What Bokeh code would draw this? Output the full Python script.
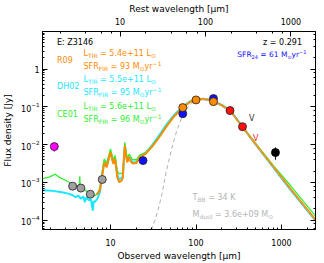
import math
from bokeh.plotting import figure
from bokeh.models import (Range1d, LogAxis, LogTicker, LogScale, BasicTickFormatter, Label,
                          CustomJSTickFormatter)
from bokeh.core.properties import value
from bokeh.embed import file_html
from bokeh.resources import INLINE

FONT = "DejaVu Sans"
ORANGE = "#ff8c00"
CYAN = "#19e6ff"
GREEN = "#2ef02e"
GREY_TXT = "#b4b4b4"
Z = 0.291

# ---------------- data ----------------
# photometry
mag_x = [2.2]; mag_y = [8.9e-3]; mag_lo = [6.5e-3]; mag_hi = [1.1e-2]
irac_x = [3.6, 4.5, 5.8, 8.0]; irac_y = [8.0e-4, 7.1e-4, 4.9e-4, 1.2e-3]
mips_x = [24.0, 70.0, 160.0]; mips_y = [3.8e-3, 0.066, 0.166]
pacs_x = [70.0, 100.0, 160.0]; pacs_y = [0.096, 0.153, 0.138]
spire_x = [250.0, 350.0]; spire_y = [0.080, 0.030]
smm_x = [850.0]; smm_y = [6.2e-3]; smm_lo = [4.0e-3]; smm_hi = [8.5e-3]
lim_x = [450.0, 500.0]; lim_y = [0.048, 0.015]; lim_txt = ["V", "V"]; lim_col = ["#303030", "#ff2020"]

# R09 template (orange)
r09_x = [6.9, 7.5, 8.06, 8.45, 9.0, 9.6, 10.0, 10.5, 10.8, 11.3, 12.0, 12.6, 13.4, 13.9, 14.4, 14.7,
         15.1, 15.7, 16.5, 17.2, 18.1, 20.1, 22.0, 25.9, 31.0, 38.0, 45.0, 55.0, 70.0, 85.0, 100.0,
         120.0, 140.0, 160.0, 200.0, 253.0, 350.0, 497.0, 813.0, 1274.0, 2530.0]
r09_y = [4.8e-4, 6.2e-4, 1.7e-3, 3.4e-3, 2.5e-3, 4.5e-3, 6.3e-3, 4.0e-3, 3.1e-3, 4.2e-3, 1.38e-3,
         1.02e-3, 1.1e-3, 1.3e-3, 5.0e-3, 9.4e-3, 5.5e-3, 3.4e-3, 4.7e-3, 3.6e-3, 3.2e-3, 3.3e-3,
         4.7e-3, 5.8e-3, 9.2e-3, 0.017, 0.030, 0.055, 0.097, 0.135, 0.156, 0.162, 0.155, 0.142,
         0.110, 0.078, 0.029, 0.0104, 2.5e-3, 6.8e-4, 1.0e-4]

# CE01 template (green)
ce01_x = [1.6, 1.92, 2.26, 2.5, 3.0, 3.69, 4.3, 4.37, 4.42, 4.6, 5.4, 6.45, 7.0, 7.5, 8.06, 8.45,
          9.0, 10.0, 10.7, 11.3, 12.0, 12.6, 13.9, 14.7, 15.7, 16.5, 18.1, 20.1, 22.0, 25.9, 31.0,
          38.0, 45.0, 55.0, 70.0, 85.0, 100.0, 120.0, 140.0, 160.0, 200.0, 253.0, 350.0, 497.0,
          813.0, 1274.0, 2530.0]
ce01_y = [1.26e-3, 1.38e-3, 1.66e-3, 1.38e-3, 1.13e-3, 8.7e-4, 7.5e-4, 1.45e-3, 7.3e-4, 7.6e-4,
          5.5e-4, 4.4e-4, 5.0e-4, 7.0e-4, 2.2e-3, 4.2e-3, 3.2e-3, 7.7e-3, 4.0e-3, 5.2e-3, 2.0e-3,
          1.7e-3, 1.8e-3, 1.15e-2, 4.3e-3, 5.6e-3, 4.0e-3, 4.0e-3, 5.3e-3, 6.3e-3, 9.6e-3, 0.0175,
          0.031, 0.056, 0.097, 0.134, 0.155, 0.160, 0.153, 0.140, 0.109, 0.078, 0.030, 0.011,
          2.7e-3, 8.3e-4, 1.25e-4]

# DH02 template (cyan)
dh02_x = [1.6, 2.1, 2.7, 3.3, 3.6, 3.9, 4.2, 4.5, 4.8, 5.0, 5.2, 5.6, 5.9, 6.2, 6.35, 6.5, 7.0,
          7.5, 8.06, 8.45, 9.0, 10.0, 10.7, 11.3, 12.0, 12.6, 13.9, 14.7, 15.7, 16.5, 18.1, 20.1,
          22.0, 25.9, 31.0, 38.0, 45.0, 55.0, 70.0, 85.0, 100.0, 120.0, 140.0, 160.0, 200.0,
          253.0, 350.0, 497.0, 813.0, 1274.0, 2530.0]
dh02_y = [6.2e-4, 6.0e-4, 5.5e-4, 5.0e-4, 4.6e-4, 4.1e-4, 4.5e-4, 3.7e-4, 4.3e-4, 3.0e-4, 4.0e-4,
          3.4e-4, 3.6e-4, 1.8e-4, 3.2e-4, 3.0e-4, 3.7e-4, 5.5e-4, 1.9e-3, 3.6e-3, 2.7e-3, 6.5e-3,
          3.3e-3, 4.4e-3, 1.6e-3, 1.2e-3, 1.4e-3, 9.0e-3, 3.6e-3, 4.8e-3, 3.4e-3, 3.5e-3, 4.9e-3,
          6.2e-3, 1.0e-2, 0.019, 0.034, 0.060, 0.102, 0.140, 0.160, 0.164, 0.157, 0.144, 0.113,
          0.080, 0.030, 0.0102, 2.4e-3, 6.4e-4, 9.5e-5]

# modified black body (grey dashed)
bb_x = [30.0, 33.0, 36.0, 40.0, 45.0, 52.0, 60.0, 70.0, 80.0, 95.0, 120.0, 160.0, 253.0, 350.0,
        497.0, 813.0, 1274.0, 2530.0]
bb_y = [5.5e-5, 1.0e-4, 1.9e-4, 5.0e-4, 2.0e-3, 8.0e-3, 0.025, 0.060, 0.100, 0.140, 0.155, 0.140,
        0.076, 0.029, 0.0102, 2.4e-3, 6.4e-4, 9.5e-5]

# ---------------- figure ----------------
XMIN, XMAX = 1.6, 2500.0
YMIN, YMAX = 5.7e-5, 9.9
p = figure(width=324, height=263, x_axis_type="log", y_axis_type="log",
           x_range=Range1d(XMIN, XMAX), y_range=Range1d(YMIN, YMAX),
           output_backend="svg", toolbar_location=None,
           min_border_left=42, min_border_right=9, min_border_top=29, min_border_bottom=34)
p.xgrid.visible = False
p.ygrid.visible = False
p.outline_line_color = "black"
p.background_fill_color = "white"
p.border_fill_color = "white"
p.extra_x_ranges = {"rest": Range1d(XMIN / (1 + Z), XMAX / (1 + Z))}
p.extra_x_scales = {"rest": LogScale()}


def style_axis(ax):
    ax.major_tick_in = 5
    ax.major_tick_out = 0
    ax.minor_tick_in = 2
    ax.minor_tick_out = 0
    ax.axis_line_color = "black"
    ax.major_tick_line_color = "black"
    ax.minor_tick_line_color = "black"
    ax.major_label_text_font = FONT
    ax.major_label_text_font_size = "8px"
    ax.major_label_text_color = "black"
    ax.axis_label_text_font = FONT
    ax.axis_label_text_font_size = "9px"
    ax.axis_label_text_font_style = "normal"
    ax.axis_label_text_color = "black"


xb = p.xaxis[0]
style_axis(xb)
xb.formatter = BasicTickFormatter()
xb.axis_label = "Observed wavelength [μm]"
xb.major_label_standoff = 9
xb.axis_label_standoff = 2

yl = p.yaxis[0]
style_axis(yl)
yl.axis_label = "Flux density [Jy]"
yl.major_label_standoff = 3
yl.axis_label_standoff = 5
yl.major_label_overrides = {1: "1"}

xt = LogAxis(x_range_name="rest", ticker=LogTicker(), formatter=BasicTickFormatter(),
             axis_label="Rest wavelength [μm]")
style_axis(xt)
xt.major_label_standoff = 7
xt.axis_label_standoff = 1
p.add_layout(xt, "above")

yr = LogAxis(ticker=LogTicker(), formatter=CustomJSTickFormatter(code="return ''"))
style_axis(yr)
yr.major_label_standoff = 0
p.add_layout(yr, "right")

# ---------------- curves ----------------
p.line(dh02_x, dh02_y, line_color=CYAN, line_width=2.0)
p.line(ce01_x, ce01_y, line_color=GREEN, line_width=1.3)
p.line(r09_x, r09_y, line_color=ORANGE, line_width=2.0)
p.line(bb_x, bb_y, line_color="#b0b0b0", line_width=1.0, line_dash="4 3")

# ---------------- points ----------------
p.segment(mag_x, mag_lo, mag_x, mag_hi, line_color="#ff00ff", line_width=1)
p.segment(smm_x, smm_lo, smm_x, smm_hi, line_color="black", line_width=1)
S = 8
p.scatter(mag_x, mag_y, size=S, fill_color="#ff00ff", line_color="#202020", line_width=0.8)
p.scatter(irac_x, irac_y, size=S, fill_color="#a0a0a0", line_color="#202020", line_width=0.8)
p.scatter(mips_x, mips_y, size=S, fill_color="#1010ff", line_color="#202020", line_width=0.8)
p.scatter(pacs_x, pacs_y, size=S, fill_color="#ff8c00", line_color="#202020", line_width=0.8)
p.scatter(spire_x, spire_y, size=S, fill_color="#ff1010", line_color="#202020", line_width=0.8)
p.scatter(smm_x, smm_y, size=S, fill_color="black", line_color="black", line_width=0.8)
p.text(lim_x, lim_y, text=lim_txt, text_color=lim_col, text_font=value(FONT),
       text_font_size="8px", text_align="center", text_baseline="middle")

# ---------------- annotations ----------------
FL = 42.0; FR = 315.0; FT = 29.0; FB = 229.0  # pixel frame used for placing texts
LX0, LX1 = math.log10(XMIN), math.log10(XMAX)
LY0, LY1 = math.log10(YMIN), math.log10(YMAX)


def at(px, py):
    lx = LX0 + (px - FL) / (FR - FL) * (LX1 - LX0)
    ly = LY1 - (py - FT) / (FB - FT) * (LY1 - LY0)
    return 10 ** lx, 10 ** ly


W = {' ': .318, '.': .318, '=': .838, '+': .838, '\u2212': .838, '-': .361, ':': .337,
     'e': .615, 'L': .557, 'T': .611, 'I': .295, 'R': .695, 'S': .635, 'F': .575, 'M': .863,
     'y': .592, 'r': .411, 'z': .525, 'K': .656, 'B': .686, 'd': .635, 'u': .634, 's': .521,
     't': .392, 'E': .632, 'Z': .686, 'H': .752, 'D': .770, 'C': .698, '\u2299': .838}
for d in "0123456789":
    W[d] = .636


def rich(px, py, parts, color, size=8.0, align="left"):
    sub = round(size * 0.72)
    sizes = [size if k == "n" else sub for _, k in parts]
    widths = [sum(W.get(c, 0.6) for c in t) * fs for (t, _), fs in zip(parts, sizes)]
    total = sum(widths)
    x0 = px - total if align == "right" else px
    xd, yd = at(x0, py)
    off = 0.0
    for (t, k), fs, w in zip(parts, sizes, widths):
        lead = (len(t) - len(t.lstrip(' '))) * W[' '] * fs
        txt = t.strip(' ')
        dy = {"n": 0.0, "sub": -2.0, "sup": 3.0}[k]
        if txt:
            p.add_layout(Label(x=xd, y=yd, x_offset=round(off + lead, 1), y_offset=dy, text=txt,
                               text_color=color, text_font=FONT, text_font_size=f"{fs}px",
                               text_baseline="alphabetic", text_align="left"))
        off += w


SUN = "\u2299"
rich(56.5, 40.5, [("E: Z3146", "n")], "black", 8)
rich(301.5, 40.5, [("z = 0.291", "n")], "black", 8, align="right")
rich(306.0, 52.5, [("SFR", "n"), ("24", "sub"), (" = 61 M", "n"), (SUN, "sub"), ("yr", "n"),
                   ("\u22121", "sup")], "#1010ff", 7.5, align="right")

models = [("R09", ORANGE, "5.4e+11", "93", 58.0, 51.0, 64.0),
          ("DH02", CYAN, "5.5e+11", "95", 85.0, 77.5, 91.0),
          ("CE01", GREEN, "5.6e+11", "96", 112.5, 104.5, 118.0)]
for name, col, lt, sfr, yn, yl1, yl2 in models:
    rich(56.5, yn, [(name, "n")], col, 8)
    rich(83.0, yl1, [("L", "n"), ("TIR", "sub"), (" = " + lt + " L", "n"), (SUN, "sub")], col, 8)
    rich(83.0, yl2, [("SFR", "n"), ("FIR", "sub"), (" = " + sfr + " M", "n"), (SUN, "sub"),
                     ("yr", "n"), ("\u22121", "sup")], col, 8)

rich(192.0, 196.5, [("T", "n"), ("BB", "sub"), (" = 34 K", "n")], GREY_TXT, 8)
rich(192.0, 214.0, [("M", "n"), ("dust", "sub"), (" = 3.6e+09 M", "n"), (SUN, "sub")], GREY_TXT, 8)

open("out.html", "w").write(file_html(p, INLINE))
